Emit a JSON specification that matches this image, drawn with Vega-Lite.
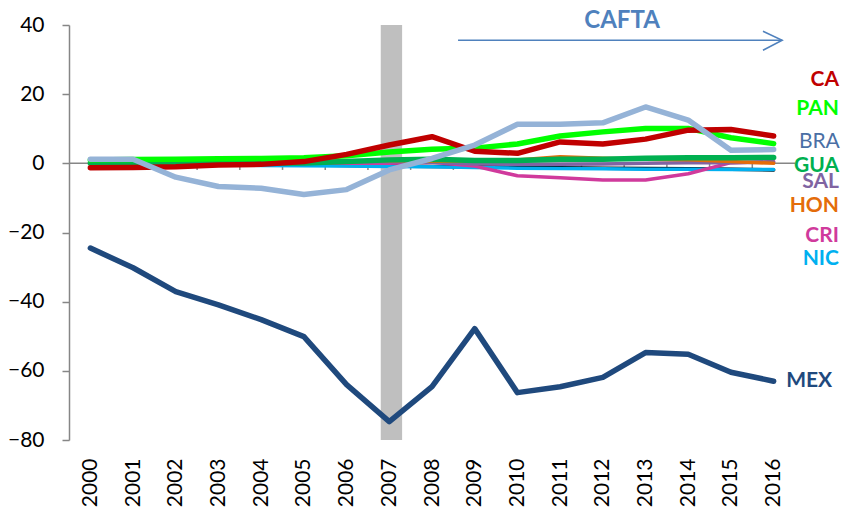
{
  "$schema": "https://vega.github.io/schema/vega-lite/v6.json",
  "width": 726,
  "height": 415,
  "autosize": "none",
  "padding": {"left": 69, "top": 25, "right": 61, "bottom": 79},
  "background": "white",
  "config": {"view": {"stroke": null}, "font": "Lato"},
  "datasets": {
    "series": [
      {"c":"REF","year":2000,"v":0},{"c":"REF","year":2001,"v":-0.1},{"c":"REF","year":2002,"v":-0.2},{"c":"REF","year":2003,"v":-0.3},{"c":"REF","year":2004,"v":-0.4},{"c":"REF","year":2005,"v":-0.5},{"c":"REF","year":2006,"v":-0.6},{"c":"REF","year":2007,"v":-0.8},{"c":"REF","year":2008,"v":-0.9},{"c":"REF","year":2009,"v":-1.0},{"c":"REF","year":2010,"v":-1.1},{"c":"REF","year":2011,"v":-1.3},{"c":"REF","year":2012,"v":-1.4},{"c":"REF","year":2013,"v":-1.5},{"c":"REF","year":2014,"v":-1.6},{"c":"REF","year":2015,"v":-1.7},{"c":"REF","year":2016,"v":-1.9},
      {"c":"NIC","year":2000,"v":-0.2},{"c":"NIC","year":2001,"v":-0.3},{"c":"NIC","year":2002,"v":-0.4},{"c":"NIC","year":2003,"v":-0.5},{"c":"NIC","year":2004,"v":-0.6},{"c":"NIC","year":2005,"v":-0.7},{"c":"NIC","year":2006,"v":-0.8},{"c":"NIC","year":2007,"v":-0.9},{"c":"NIC","year":2008,"v":-1.0},{"c":"NIC","year":2009,"v":-1.2},{"c":"NIC","year":2010,"v":-1.4},{"c":"NIC","year":2011,"v":-1.5},{"c":"NIC","year":2012,"v":-1.6},{"c":"NIC","year":2013,"v":-1.7},{"c":"NIC","year":2014,"v":-1.7},{"c":"NIC","year":2015,"v":-1.8},{"c":"NIC","year":2016,"v":-1.8},
      {"c":"CRI","year":2000,"v":0},{"c":"CRI","year":2001,"v":0},{"c":"CRI","year":2002,"v":0},{"c":"CRI","year":2003,"v":0},{"c":"CRI","year":2004,"v":0},{"c":"CRI","year":2005,"v":0},{"c":"CRI","year":2006,"v":0},{"c":"CRI","year":2007,"v":0},{"c":"CRI","year":2008,"v":0.3},{"c":"CRI","year":2009,"v":-0.8},{"c":"CRI","year":2010,"v":-3.6},{"c":"CRI","year":2011,"v":-4.2},{"c":"CRI","year":2012,"v":-4.8},{"c":"CRI","year":2013,"v":-4.8},{"c":"CRI","year":2014,"v":-3.0},{"c":"CRI","year":2015,"v":0.2},{"c":"CRI","year":2016,"v":0.5},
      {"c":"SAL","year":2000,"v":0.2},{"c":"SAL","year":2001,"v":0.2},{"c":"SAL","year":2002,"v":0.1},{"c":"SAL","year":2003,"v":0.1},{"c":"SAL","year":2004,"v":0.1},{"c":"SAL","year":2005,"v":0.2},{"c":"SAL","year":2006,"v":0.3},{"c":"SAL","year":2007,"v":0.5},{"c":"SAL","year":2008,"v":0.3},{"c":"SAL","year":2009,"v":-0.2},{"c":"SAL","year":2010,"v":-0.3},{"c":"SAL","year":2011,"v":-0.3},{"c":"SAL","year":2012,"v":-0.2},{"c":"SAL","year":2013,"v":0.0},{"c":"SAL","year":2014,"v":0.2},{"c":"SAL","year":2015,"v":0.2},{"c":"SAL","year":2016,"v":0.3},
      {"c":"HON","year":2000,"v":0.3},{"c":"HON","year":2001,"v":0.3},{"c":"HON","year":2002,"v":0.4},{"c":"HON","year":2003,"v":0.5},{"c":"HON","year":2004,"v":0.5},{"c":"HON","year":2005,"v":0.6},{"c":"HON","year":2006,"v":0.7},{"c":"HON","year":2007,"v":0.8},{"c":"HON","year":2008,"v":0.6},{"c":"HON","year":2009,"v":0.6},{"c":"HON","year":2010,"v":1.0},{"c":"HON","year":2011,"v":1.9},{"c":"HON","year":2012,"v":1.5},{"c":"HON","year":2013,"v":1.2},{"c":"HON","year":2014,"v":1.0},{"c":"HON","year":2015,"v":0.5},{"c":"HON","year":2016,"v":0.0},
      {"c":"GUA","year":2000,"v":0},{"c":"GUA","year":2001,"v":0},{"c":"GUA","year":2002,"v":0},{"c":"GUA","year":2003,"v":0},{"c":"GUA","year":2004,"v":0},{"c":"GUA","year":2005,"v":0.1},{"c":"GUA","year":2006,"v":0.5},{"c":"GUA","year":2007,"v":1.0},{"c":"GUA","year":2008,"v":1.2},{"c":"GUA","year":2009,"v":0.8},{"c":"GUA","year":2010,"v":0.8},{"c":"GUA","year":2011,"v":1.2},{"c":"GUA","year":2012,"v":1.2},{"c":"GUA","year":2013,"v":1.5},{"c":"GUA","year":2014,"v":1.6},{"c":"GUA","year":2015,"v":1.6},{"c":"GUA","year":2016,"v":1.7},
      {"c":"PAN","year":2000,"v":1.0},{"c":"PAN","year":2001,"v":1.1},{"c":"PAN","year":2002,"v":1.2},{"c":"PAN","year":2003,"v":1.3},{"c":"PAN","year":2004,"v":1.4},{"c":"PAN","year":2005,"v":1.6},{"c":"PAN","year":2006,"v":2.2},{"c":"PAN","year":2007,"v":3.3},{"c":"PAN","year":2008,"v":4.1},{"c":"PAN","year":2009,"v":4.4},{"c":"PAN","year":2010,"v":5.6},{"c":"PAN","year":2011,"v":7.9},{"c":"PAN","year":2012,"v":9.1},{"c":"PAN","year":2013,"v":10.1},{"c":"PAN","year":2014,"v":10.1},{"c":"PAN","year":2015,"v":7.4},{"c":"PAN","year":2016,"v":5.7},
      {"c":"CA","year":2000,"v":-1.3},{"c":"CA","year":2001,"v":-1.2},{"c":"CA","year":2002,"v":-1.0},{"c":"CA","year":2003,"v":-0.5},{"c":"CA","year":2004,"v":-0.3},{"c":"CA","year":2005,"v":0.5},{"c":"CA","year":2006,"v":2.6},{"c":"CA","year":2007,"v":5.3},{"c":"CA","year":2008,"v":7.7},{"c":"CA","year":2009,"v":3.5},{"c":"CA","year":2010,"v":2.9},{"c":"CA","year":2011,"v":6.2},{"c":"CA","year":2012,"v":5.6},{"c":"CA","year":2013,"v":7.0},{"c":"CA","year":2014,"v":9.6},{"c":"CA","year":2015,"v":9.8},{"c":"CA","year":2016,"v":7.9},
      {"c":"BRA","year":2000,"v":1.2},{"c":"BRA","year":2001,"v":1.2},{"c":"BRA","year":2002,"v":-4.0},{"c":"BRA","year":2003,"v":-6.7},{"c":"BRA","year":2004,"v":-7.2},{"c":"BRA","year":2005,"v":-9.0},{"c":"BRA","year":2006,"v":-7.6},{"c":"BRA","year":2007,"v":-1.9},{"c":"BRA","year":2008,"v":1.4},{"c":"BRA","year":2009,"v":5.3},{"c":"BRA","year":2010,"v":11.3},{"c":"BRA","year":2011,"v":11.3},{"c":"BRA","year":2012,"v":11.7},{"c":"BRA","year":2013,"v":16.3},{"c":"BRA","year":2014,"v":12.5},{"c":"BRA","year":2015,"v":3.8},{"c":"BRA","year":2016,"v":4.0},
      {"c":"MEX","year":2000,"v":-24.5},{"c":"MEX","year":2001,"v":-30.2},{"c":"MEX","year":2002,"v":-37.1},{"c":"MEX","year":2003,"v":-40.9},{"c":"MEX","year":2004,"v":-45.2},{"c":"MEX","year":2005,"v":-50.1},{"c":"MEX","year":2006,"v":-64.0},{"c":"MEX","year":2007,"v":-74.7},{"c":"MEX","year":2008,"v":-64.6},{"c":"MEX","year":2009,"v":-47.8},{"c":"MEX","year":2010,"v":-66.3},{"c":"MEX","year":2011,"v":-64.6},{"c":"MEX","year":2012,"v":-61.9},{"c":"MEX","year":2013,"v":-54.7},{"c":"MEX","year":2014,"v":-55.2},{"c":"MEX","year":2015,"v":-60.4},{"c":"MEX","year":2016,"v":-63.0}
    ],
    "labels": [
      {"c":"CA","lx":2017.53,"ly":24.0},
      {"c":"PAN","lx":2017.53,"ly":15.7},
      {"c":"GUA","lx":2017.53,"ly":-0.7},
      {"c":"SAL","lx":2017.53,"ly":-5.3},
      {"c":"HON","lx":2017.53,"ly":-12.2},
      {"c":"CRI","lx":2017.53,"ly":-20.9},
      {"c":"NIC","lx":2017.53,"ly":-27.6},
      {"c":"MEX","lx":2017.37,"ly":-63.0}
    ],
    "bounds": [
      {"b":2000.5},{"b":2001.5},{"b":2002.5},{"b":2003.5},{"b":2004.5},{"b":2005.5},{"b":2006.5},{"b":2007.5},{"b":2008.5},{"b":2009.5},{"b":2010.5},{"b":2011.5},{"b":2012.5},{"b":2013.5},{"b":2014.5},{"b":2015.5}
    ],
    "arrowhead": [
      {"ax":2015.75,"ay":38.2,"o":0},
      {"ax":2016.2,"ay":35.6,"o":1},
      {"ax":2015.75,"ay":32.7,"o":2}
    ]
  },
  "layer": [
    {
      "data": {"values": [{"x1": 2006.8, "x2": 2007.3, "y1": -80, "y2": 40}]},
      "mark": {"type": "rect", "color": "#BFBFBF"},
      "encoding": {
        "x": {
          "field": "x1", "type": "quantitative", "scale": {"domain": [1999.5, 2016.5], "nice": false, "zero": false},
          "axis": {
            "title": null, "values": [2000,2001,2002,2003,2004,2005,2006,2007,2008,2009,2010,2011,2012,2013,2014,2015,2016],
            "format": "d", "labelAngle": 270, "labelFontSize": 21, "labelColor": "#000000", "labelFont": "Lato",
            "labelPadding": 18, "domain": false, "ticks": false, "grid": false, "labelOverlap": false, "labelFlush": false
          }
        },
        "x2": {"field": "x2"},
        "y": {
          "field": "y1", "type": "quantitative", "scale": {"domain": [-80, 40], "nice": false},
          "axis": {
            "title": null, "values": [-80,-60,-40,-20,0,20,40], "labelFontSize": 21, "labelColor": "#000000", "labelFont": "Lato",
            "labelPadding": 18, "domainColor": "#868686", "domainWidth": 1.5, "tickColor": "#868686", "tickWidth": 1.5,
            "tickSize": 7, "grid": false, "labelFlush": false
          }
        },
        "y2": {"field": "y2"}
      }
    },
    {
      "data": {"values": [{"a": 1}]},
      "mark": {"type": "rule", "color": "#868686", "strokeWidth": 1.5},
      "encoding": {
        "x": {"datum": 1999.5, "type": "quantitative", "title": null},
        "x2": {"datum": 2016.5},
        "y": {"datum": 0, "type": "quantitative", "title": null}
      }
    },
    {
      "data": {"name": "bounds"},
      "mark": {"type": "rule", "color": "#868686", "strokeWidth": 1.5},
      "encoding": {
        "x": {"field": "b", "type": "quantitative", "title": null},
        "y": {"datum": 0, "type": "quantitative", "title": null},
        "y2": {"datum": -1.9}
      }
    },
    {
      "data": {"name": "series"},
      "transform": [{"filter": {"field": "c", "oneOf": ["REF","NIC","CRI","SAL","HON"]}}],
      "mark": {"type": "line", "strokeCap": "round", "strokeJoin": "round", "strokeWidth": 3.5},
      "encoding": {
        "x": {"field": "year", "type": "quantitative", "title": null},
        "y": {"field": "v", "type": "quantitative", "title": null},
        "color": {
          "field": "c", "type": "nominal", "legend": null,
          "scale": {
            "domain": ["REF","NIC","CRI","SAL","HON","GUA","PAN","CA","BRA","MEX"],
            "range": ["#000000","#00B0F0","#D03A9C","#8064A2","#E46C0A","#00B050","#00FF00","#C00000","#95B3D7","#1F497D"]
          }
        }
      }
    },
    {
      "data": {"name": "series"},
      "transform": [{"filter": {"field": "c", "oneOf": ["GUA","PAN","CA","BRA","MEX"]}}],
      "mark": {"type": "line", "strokeCap": "round", "strokeJoin": "round", "strokeWidth": 5.5},
      "encoding": {
        "x": {"field": "year", "type": "quantitative", "title": null},
        "y": {"field": "v", "type": "quantitative", "title": null},
        "color": {"field": "c", "type": "nominal", "legend": null}
      }
    },
    {
      "data": {"name": "labels"},
      "mark": {"type": "text", "align": "right", "baseline": "middle", "fontSize": 21, "fontWeight": "bold", "font": "Lato"},
      "encoding": {
        "x": {"field": "lx", "type": "quantitative", "title": null},
        "y": {"field": "ly", "type": "quantitative", "title": null},
        "text": {"field": "c"},
        "color": {"field": "c", "type": "nominal", "legend": null}
      }
    },
    {
      "data": {"values": [{"t": "BRA", "lx": 2017.55, "ly": 6.2}]},
      "mark": {"type": "text", "align": "right", "baseline": "middle", "fontSize": 21, "font": "Lato", "color": "#4A6FA5"},
      "encoding": {
        "x": {"field": "lx", "type": "quantitative", "title": null},
        "y": {"field": "ly", "type": "quantitative", "title": null},
        "text": {"field": "t"}
      }
    },
    {
      "data": {"values": [{"s": 2008.61, "e": 2016.2, "y": 35.6}]},
      "mark": {"type": "rule", "color": "#4F81BD", "strokeWidth": 1.5},
      "encoding": {
        "x": {"field": "s", "type": "quantitative", "title": null},
        "x2": {"field": "e"},
        "y": {"field": "y", "type": "quantitative", "title": null}
      }
    },
    {
      "data": {"name": "arrowhead"},
      "mark": {"type": "line", "color": "#4F81BD", "strokeWidth": 1.5},
      "encoding": {
        "x": {"field": "ax", "type": "quantitative", "title": null},
        "y": {"field": "ay", "type": "quantitative", "title": null},
        "order": {"field": "o"}
      }
    },
    {
      "data": {"values": [{"t": "CAFTA", "x": 2012.45, "y": 41.2}]},
      "mark": {"type": "text", "align": "center", "baseline": "middle", "fontSize": 24, "fontWeight": "bold", "font": "Lato", "color": "#4F81BD"},
      "encoding": {
        "x": {"field": "x", "type": "quantitative", "title": null},
        "y": {"field": "y", "type": "quantitative", "title": null},
        "text": {"field": "t"}
      }
    }
  ]
}
